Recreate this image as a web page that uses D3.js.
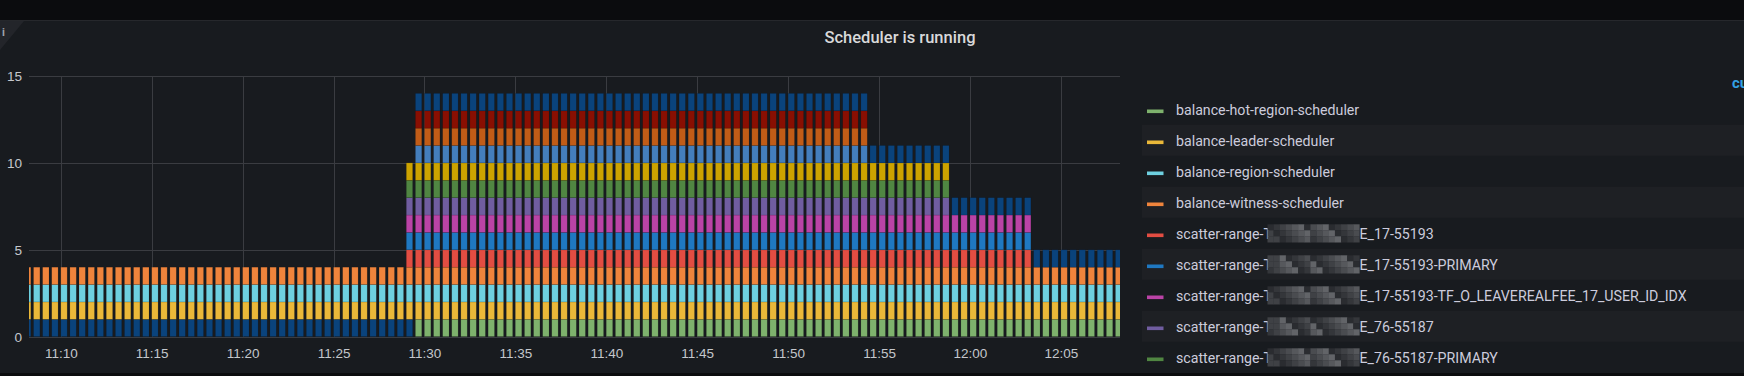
<!DOCTYPE html>
<html>
<head>
<meta charset="utf-8">
<script src="https://cdn.jsdelivr.net/npm/d3@7"></script>
<style>
  html, body { margin: 0; padding: 0; background: #0b0c0e; overflow: hidden; }
  svg { display: block; font-family: Roboto, "Noto Sans", sans-serif; }
</style>
</head>
<body>
<svg id="chart"></svg>
<script>
/* DATA - one scheduler per series, value 1 while it is running.
   Stack order is bottom to top; colours follow the classic Grafana palette. */
var seriesKeys = ["early", "hotRegion", "leader", "region", "witness",
                  "t17", "t17Primary", "t17Idx", "t76", "t76Primary", "t76Other",
                  "tX", "tXPrimary", "tXOther", "late"];
var seriesColors = ["#0A437C", "#7EB26D", "#EAB839", "#6ED0E0", "#EF843C",
                    "#E24D42", "#1F78C1", "#BA43A6", "#705DA0", "#508642", "#CCA300",
                    "#447EBC", "#C15C17", "#890F02", "#0A437C"];
// first and last 30s sample at which each scheduler reports running
var runFrom = ["11:08:00", "11:29:30", "11:08:00", "11:08:00", "11:08:00",
               "11:29:00", "11:29:00", "11:29:00", "11:29:00", "11:29:00", "11:29:00",
               "11:29:30", "11:29:30", "11:29:30", "11:29:30"];
var runTo   = ["11:29:00", "12:08:00", "12:08:00", "12:08:00", "12:08:00",
               "12:03:00", "12:03:00", "12:03:00", "11:58:30", "11:58:30", "11:58:30",
               "11:54:00", "11:54:00", "11:54:00", "12:08:00"];

var timeRange = ["11:08:15", "12:08:15"];
var sampleStep = 30; // seconds
var yTicks = [0, 5, 10, 15];

// legend rows that are visible (the rest is scrolled away)
var legendKeys = ["hotRegion", "leader", "region", "witness", "t17", "t17Primary", "t17Idx", "t76", "t76Primary"];
var legendPrefix = ["balance-hot-region-scheduler", "balance-leader-scheduler", "balance-region-scheduler",
                    "balance-witness-scheduler", "scatter-range-T", "scatter-range-T", "scatter-range-T",
                    "scatter-range-T", "scatter-range-T"];
var legendSuffix = ["", "", "", "", "E_17-55193", "E_17-55193-PRIMARY",
                    "E_17-55193-TF_O_LEAVEREALFEE_17_USER_ID_IDX", "E_76-55187", "E_76-55187-PRIMARY"];

var chartTitle = "Scheduler is running";

/* SETTINGS */
var width = 1744, height = 376;
var plot = { left: 29, right: 1120, top: 76, bottom: 336.7 };
var gridColor = "#3a3c41";
var axisText = "#c4c7cc";

var parse = d3.timeParse("%H:%M:%S");

var svg = d3.select("#chart").attr("width", width).attr("height", height);

/* panel */
svg.append("rect").attr("width", width).attr("height", height).attr("fill", "#0b0c0e");
svg.append("rect").attr("x", 0).attr("y", 20).attr("width", width).attr("height", 353).attr("fill", "#181b1f");
svg.append("line").attr("x1", 0).attr("x2", width).attr("y1", 20.5).attr("y2", 20.5)
  .attr("stroke", "#26282c");
svg.append("path").attr("d", "M0,21L24,21L0,50Z").attr("fill", "#23252a");
svg.append("text").attr("x", 2).attr("y", 36).attr("font-size", 11).attr("font-weight", 700)
  .attr("fill", "#9ea3ab").text("i");

svg.append("text")
  .attr("x", 900).attr("y", 43.3)
  .attr("text-anchor", "middle")
  .attr("font-size", "16.5px").attr("font-weight", 500)
  .attr("fill", "#d8d9da")
  .text(chartTitle);

/* scales */
var xScale = d3.scaleTime()
  .domain(timeRange.map(parse))
  .range([plot.left, plot.right]);
var yScale = d3.scaleLinear()
  .domain([0, 15])
  .range([plot.bottom, plot.top]);

/* table of samples */
var sampleTimes = d3.timeSecond.every(sampleStep).range(parse(runFrom[0]), d3.timeSecond.offset(parse(runTo[1]), 1));
var table = sampleTimes.map(function (t) {
  var row = { time: t };
  seriesKeys.forEach(function (k, i) {
    row[k] = (t >= parse(runFrom[i]) && t <= parse(runTo[i])) ? 1 : 0;
  });
  return row;
});

var stacked = d3.stack().keys(seriesKeys).order(d3.stackOrderNone)(table);

/* grid */
var grid = svg.append("g").attr("class", "grid");
var xTicks = xScale.ticks(d3.timeMinute.every(5));
grid.selectAll(".vx").data(xTicks).enter().append("line")
  .attr("x1", function (d) { return Math.round(xScale(d)) + 0.5; })
  .attr("x2", function (d) { return Math.round(xScale(d)) + 0.5; })
  .attr("y1", plot.top).attr("y2", plot.bottom)
  .attr("stroke", gridColor);
grid.selectAll(".hy").data(yTicks).enter().append("line")
  .attr("x1", plot.left).attr("x2", plot.right)
  .attr("y1", function (d) { return Math.round(yScale(d)) + 0.5; })
  .attr("y2", function (d) { return Math.round(yScale(d)) + 0.5; })
  .attr("stroke", gridColor);

/* bars */
svg.append("clipPath").attr("id", "plot-area")
  .append("rect")
  .attr("x", plot.left).attr("y", plot.top - 10)
  .attr("width", plot.right - plot.left).attr("height", plot.bottom - plot.top + 10);

var step = xScale(d3.timeSecond.offset(sampleTimes[0], sampleStep)) - xScale(sampleTimes[0]);
var barWidth = step * 0.7;

var bars = svg.append("g").attr("clip-path", "url(#plot-area)");
bars.selectAll("g.layer")
  .data(stacked)
  .enter().append("g")
  .attr("class", "layer")
  .attr("fill", function (d, i) { return seriesColors[i]; })
  .selectAll("rect")
  .data(function (d) { return d.filter(function (p) { return p[1] > p[0]; }); })
  .enter().append("rect")
  .attr("x", function (p) { return xScale(p.data.time); })
  .attr("width", barWidth)
  .attr("y", function (p) { return yScale(p[1]); })
  .attr("height", function (p) { return yScale(p[0]) - yScale(p[1]); })
  .attr("stroke", "rgba(0,0,0,0.18)")
  .attr("stroke-width", 0.6);

/* axes */
var xAxis = d3.axisBottom(xScale)
  .ticks(d3.timeMinute.every(5))
  .tickFormat(d3.timeFormat("%H:%M"))
  .tickSize(0).tickPadding(12);
var xAxisG = svg.append("g")
  .attr("transform", "translate(0," + plot.bottom + ")")
  .call(xAxis);
xAxisG.select(".domain").remove();
xAxisG.selectAll("text").attr("fill", axisText).attr("font-size", "13.5px").attr("font-family", null);

var yAxis = d3.axisLeft(yScale).tickValues(yTicks).tickSize(0).tickPadding(7);
var yAxisG = svg.append("g")
  .attr("transform", "translate(" + plot.left + ",0)")
  .call(yAxis);
yAxisG.select(".domain").remove();
yAxisG.selectAll("text").attr("fill", axisText).attr("font-size", "13.6px").attr("font-family", null);

/* legend */
var legend = svg.append("g").attr("class", "legend");
var rowH = 31, rowY0 = 109.3;
legend.append("text")
  .attr("x", 1732).attr("y", 88)
  .attr("font-size", "15px").attr("font-weight", 700)
  .attr("fill", "#33a2e5")
  .text("current");

var shades = ["#2a2c30", "#34363a", "#3f4145", "#4a4c50", "#56585c", "#626468"];

legendKeys.forEach(function (k, i) {
  var cy = rowY0 + i * rowH;
  var row = legend.append("g");
  if (i % 2 === 1) {
    row.append("rect").attr("x", 1142).attr("y", cy - rowH / 2)
      .attr("width", width - 1142).attr("height", rowH).attr("fill", "#1e2024");
  }
  row.append("rect")
    .attr("x", 1147).attr("y", cy + 0.2)
    .attr("width", 16.5).attr("height", 3.6)
    .attr("fill", seriesColors[seriesKeys.indexOf(k)]);
  var pre = row.append("text")
    .attr("x", 1176).attr("y", cy + 5.5)
    .attr("font-size", "14.2px").attr("fill", "#ccccdc")
    .text(legendPrefix[i]);
  if (legendSuffix[i]) {
    var mx = 1176 + pre.node().getComputedTextLength() - 4.5;
    var mw = 92, tile = 6.13;
    var mosaic = row.append("g");
    for (var c = 0; c < 15; c++) {
      for (var r = 0; r < 3; r++) {
        var s = (c * 7 + r * 5 + i * 3 + (c > 6 ? 2 : 0)) % 6;
        if (c < 2) s = Math.min(s, 2);
        mosaic.append("rect")
          .attr("x", mx + c * tile).attr("y", cy - 9 + r * 6)
          .attr("width", tile + 0.2).attr("height", 6.2)
          .attr("fill", shades[s]);
      }
    }
    row.append("text")
      .attr("x", mx + mw).attr("y", cy + 5.5)
      .attr("font-size", "14.2px").attr("fill", "#ccccdc")
      .text(legendSuffix[i]);
  }
});
</script>
</body>
</html>
